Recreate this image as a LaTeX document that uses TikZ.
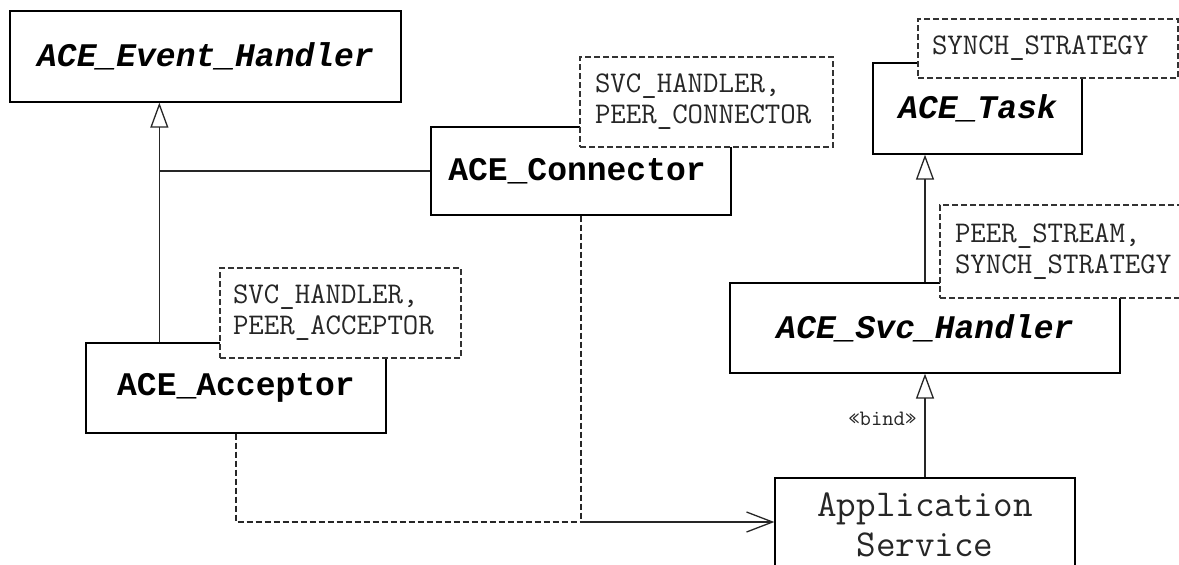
\documentclass[tikz,border=0pt]{standalone}
\usepackage{fontspec}
\newfontfamily\cour{Liberation Mono}
\usetikzlibrary{arrows.meta}
\tikzset{
  cls/.style={draw=black, line width=1.3pt, fill=white, rectangle, inner sep=0pt,
    font=\cour\fontsize{33}{38}\selectfont\bfseries},
  clsit/.style={cls, font=\cour\fontsize{33}{38}\selectfont\bfseries\itshape},
  parm/.style={draw=black!80, line width=1.2pt, dash pattern=on 6pt off 3pt, fill=white,
    rectangle, inner sep=0pt, align=left, text=black!85,
    font=\ttfamily\fontsize{30}{31}\selectfont},
  conn/.style={draw=black!85, line width=1.3pt},
  dashconn/.style={conn, dash pattern=on 6pt off 3pt},
  inh/.style={conn, -{Triangle[open, length=25pt, width=18pt, line width=1.3pt]}},
  dep/.style={conn, -{Straight Barb[length=26pt, width=20pt, line width=1.3pt]}}
}
\begin{document}
\begin{tikzpicture}[x=1pt, y=-1pt]
\clip (0,0) rectangle (1179,565);
\fill[white] (0,0) rectangle (1179,565);

% classes
\node[clsit, minimum width=391pt, minimum height=91pt] (eh) at (205.5,56.5) {ACE\_Event\_Handler};
\node[cls, minimum width=300pt, minimum height=88pt] (cn) at (581,171) {\hspace*{-8pt}ACE\_Connector};
\node[cls, minimum width=300pt, minimum height=90pt] (acc) at (236,388) {ACE\_Acceptor};
\node[clsit, minimum width=209pt, minimum height=91pt] (task) at (977.5,108.5) {ACE\_Task};
\node[clsit, minimum width=390pt, minimum height=90pt] (svc) at (925,328) {ACE\_Svc\_Handler};
\node[draw=black, line width=1.3pt, fill=white, rectangle, minimum width=300pt, minimum height=112pt] (app) at (925,534) {};
\node[font=\ttfamily\fontsize{38}{40}\selectfont, align=center, text=black!85] (apptext) at (925,525) {Application\\Service};

% template parameter boxes
\node[parm, minimum width=253pt, minimum height=90pt, text width=223pt] (cnp) at (706.5,102) {SVC\_HANDLER,\\PEER\_CONNECTOR};
\node[parm, minimum width=241pt, minimum height=90pt, text width=215pt] (accp) at (340.5,313) {SVC\_HANDLER,\\PEER\_ACCEPTOR};
\node[parm, minimum width=260pt, minimum height=59pt, text width=232pt] (taskp) at (1048,48.5) {SYNCH\_STRATEGY};
\node[parm, minimum width=255pt, minimum height=93pt, text width=225pt] (svcp) at (1067.5,251.5) {PEER\_STREAM,\\SYNCH\_STRATEGY};

% junctions
\coordinate (j1) at (160,171);
\coordinate (j2) at (581,522);

% inheritance on the left
\draw[conn] (acc.north west) ++(74,0) coordinate (accin) -- (accin |- j1);
\draw[inh] (accin |- j1) -- (accin |- eh.south);
\draw[conn] (cn.west) -- (accin |- j1);

% right inheritance
\draw[inh] (svc.north) -- (svc.north |- task.south);
\draw[inh] (app.north) -- node[pos=0.56, left=8pt, font=\ttfamily\fontsize{22}{24}\selectfont, text=black!85, inner sep=0pt] (bind) {«bind»} (svc.south);

% dependencies
\draw[dashconn] (cn.south) -- (j2);
\draw[dashconn] (acc.south) |- (j2);
\draw[dep] (j2) -- (app.west |- j2);
\end{tikzpicture}
\end{document}
